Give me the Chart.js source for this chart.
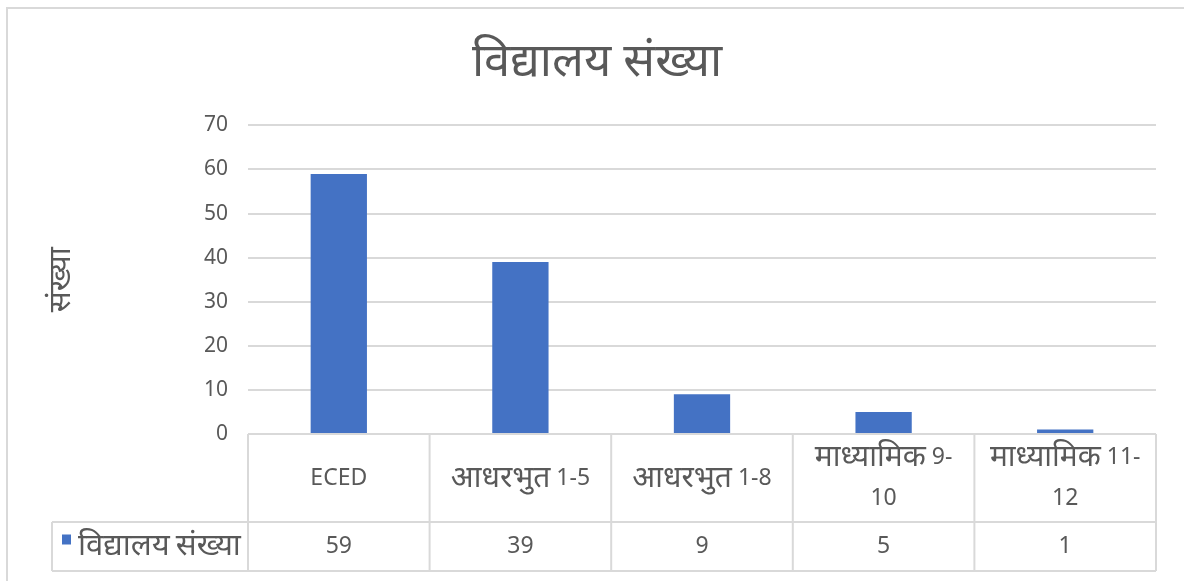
<!DOCTYPE html>
<html lang="ne">
<head>
  <meta charset="UTF-8">
  <title>विद्यालय संख्या</title>
  <script src="https://cdn.jsdelivr.net/npm/chart.js"></script>
  <style>
    body {
      margin: 0;
      background-color: #fff;
    }
    .wrap {
      width: 1184px;
      height: 581px;
      position: relative;
    }
  </style>
</head>
<body>
  <div class="wrap">
    <canvas id="schoolChart"></canvas>
  </div>

  <script>
    const chartTitle = 'विद्यालय संख्या';
    const yAxisTitle = 'संख्या';
    const seriesName = 'विद्यालय संख्या';
    const categories = ['ECED', 'आधरभुत 1-5', 'आधरभुत 1-8', 'माध्यामिक 9-10', 'माध्यामिक 11-12'];
    // how each category label is wrapped in the data table header
    const categoryLines = [['ECED'], ['आधरभुत 1-5'], ['आधरभुत 1-8'], ['माध्यामिक 9-', '10'], ['माध्यामिक 11-', '12']];
    const schoolCounts = [59, 39, 9, 5, 1];
    const yMin = 0, yMax = 70, yStep = 10;

    const barColor = '#4472C4';
    const textColor = '#595959';
    const lineColor = '#d9d9d9';
    const fontFamily = '"Segoe UI", "Noto Sans", "Open Sans", sans-serif';

    // the Devanagari fallback font draws small, so it gets its own size
    function drawMixed(ctx, text, x, y, align, latinSize, devaSize) {
      const runs = text.split(/([\u0900-\u097F]+)/).filter(s => s).map(s => ({
        s: s,
        size: /[\u0900-\u097F]/.test(s) ? devaSize : latinSize
      }));
      let total = 0;
      runs.forEach(r => {
        ctx.font = r.size + 'px ' + fontFamily;
        r.w = ctx.measureText(r.s).width;
        total += r.w;
      });
      let cx = align === 'center' ? x - total / 2 : x;
      ctx.textAlign = 'left';
      runs.forEach(r => {
        ctx.font = r.size + 'px ' + fontFamily;
        ctx.fillText(r.s, cx, y);
        cx += r.w;
      });
    }

    // outer frame like the Excel chart border
    const framePlugin = {
      id: 'frame',
      beforeDraw(chart) {
        const ctx = chart.ctx;
        ctx.save();
        ctx.strokeStyle = lineColor;
        ctx.lineWidth = 2;
        ctx.beginPath();
        ctx.moveTo(7, chart.height);
        ctx.lineTo(7, 8);
        ctx.lineTo(chart.width, 8);
        ctx.stroke();
        ctx.restore();
      }
    };

    // data table under the plot, cells placed from the x scale
    const dataTablePlugin = {
      id: 'dataTable',
      afterDraw(chart) {
        const { ctx, chartArea: a, scales: { x } } = chart;
        const top = a.bottom;
        const mid = 522;
        const bottom = 571;
        const legendLeft = 52;
        const n = categories.length;
        const edge = i => x.getPixelForValue(i - 0.5);

        ctx.save();
        ctx.strokeStyle = lineColor;
        ctx.lineWidth = 2;
        ctx.beginPath();
        ctx.moveTo(edge(0), top); ctx.lineTo(edge(n), top);
        ctx.moveTo(legendLeft, mid); ctx.lineTo(edge(n), mid);
        ctx.moveTo(legendLeft, bottom); ctx.lineTo(edge(n), bottom);
        ctx.moveTo(legendLeft, mid); ctx.lineTo(legendLeft, bottom);
        for (let i = 0; i <= n; i++) {
          ctx.moveTo(edge(i), top);
          ctx.lineTo(edge(i), bottom);
        }
        ctx.stroke();

        ctx.fillStyle = textColor;
        ctx.textBaseline = 'middle';
        const headCenter = (top + mid) / 2;
        const lineGap = 41;
        categoryLines.forEach((lines, i) => {
          const cx = x.getPixelForValue(i);
          const y0 = headCenter - (lines.length - 1) * lineGap / 2;
          lines.forEach((t, j) => drawMixed(ctx, t, cx, y0 + j * lineGap, 'center', 23, 30));
        });

        const valCenter = (mid + bottom) / 2;
        schoolCounts.forEach((v, i) => {
          drawMixed(ctx, String(v), x.getPixelForValue(i), valCenter, 'center', 23, 30);
        });

        // legend key in the first column
        ctx.fillStyle = barColor;
        ctx.fillRect(62, valCenter - 12, 9, 10);
        ctx.fillStyle = textColor;
        drawMixed(ctx, seriesName, 78, valCenter, 'left', 23, 31);
        ctx.restore();
      }
    };

    const ctx = document.getElementById('schoolChart').getContext('2d');

    new Chart(ctx, {
      type: 'bar',
      data: {
        labels: categories,
        datasets: [{
          label: seriesName,
          data: schoolCounts,
          backgroundColor: barColor,
          categoryPercentage: 1,
          barPercentage: 0.31
        }]
      },
      options: {
        responsive: true,
        maintainAspectRatio: false,
        animation: false,
        layout: {
          padding: { top: 0, right: 28, bottom: 139, left: 38 }
        },
        plugins: {
          legend: { display: false },
          tooltip: { enabled: false },
          title: {
            display: true,
            text: chartTitle,
            color: textColor,
            font: { family: fontFamily, size: 47, weight: 'normal' },
            padding: { top: 34, bottom: 35 }
          }
        },
        scales: {
          x: {
            ticks: { display: false },
            grid: { display: false },
            border: { display: false }
          },
          y: {
            min: yMin,
            max: yMax,
            afterFit(scale) { scale.width = 210; },
            ticks: {
              stepSize: yStep,
              color: textColor,
              padding: 20,
              font: { family: fontFamily, size: 21 }
            },
            grid: { color: lineColor, lineWidth: 2, drawTicks: false },
            border: { display: false },
            title: {
              display: true,
              text: yAxisTitle,
              color: textColor,
              font: { family: fontFamily, size: 31 },
              padding: { top: 5, bottom: 0 }
            }
          }
        }
      },
      plugins: [framePlugin, dataTablePlugin]
    });
  </script>
</body>
</html>
